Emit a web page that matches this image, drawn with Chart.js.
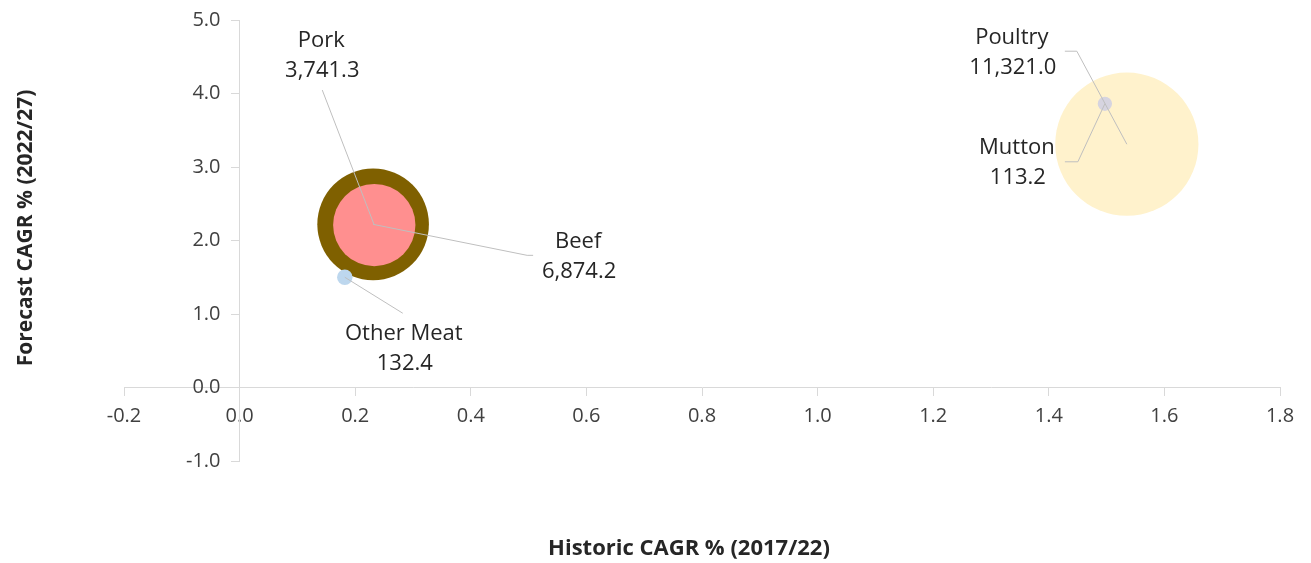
<!DOCTYPE html>
<html>
<head>
<meta charset="utf-8">
<title>Meat market CAGR</title>
<script src="https://cdn.jsdelivr.net/npm/chart.js@4/dist/chart.umd.min.js"></script>
<style>
	html, body { margin: 0; padding: 0; background: #fff; }
	#wrap { width: 1311px; height: 563px; }
</style>
</head>
<body>
<div id="wrap"><canvas id="chart" width="1311" height="563"></canvas></div>
<script>
// market size per category, historic vs forecast growth
const categories = ["Beef", "Pork", "Other Meat", "Poultry", "Mutton"];
const historicCagr = [0.231, 0.233, 0.182, 1.535, 1.497];
const forecastCagr = [2.22, 2.21, 1.50, 3.31, 3.86];
const marketSize = [6874.2, 3741.3, 132.4, 11321.0, 113.2];
const bubbleColors = ["#7f6000", "#ff8f8f", "#bdd7ee", "#fff2cc", "#d6d4e0"];

const xRange = [-0.2, 1.8];
const yRange = [-1.0, 5.0];

const xTitle = "Historic CAGR % (2017/22)";
const yTitle = "Forecast CAGR % (2022/27)";

// pixel radius per sqrt(size) so bubble area follows the market size
const sizeScale = 0.673;

// where each label sits relative to its bubble, and the leader line bends
const labelLayout = {
	"Beef": { text: [205, 17], path: [[154, 31], [160, 31]] },
	"Pork": { text: [-53, -184], path: [[-52, -135]] },
	"Other Meat": { text: [59, 56], path: [[58, 36]] },
	"Poultry": { text: [-115, -106], path: [[-50, -93], [-62, -93]] },
	"Mutton": { text: [-88, 44], path: [[-27, 58], [-40, 58]] },
};

function fmt(v){
	return v.toLocaleString("en-US", { minimumFractionDigits: 1, maximumFractionDigits: 1 });
}

function tickFmt(v){
	if(Math.abs(v) < 1e-9) v = 0;
	return v.toFixed(1);
}

const points = categories.map((c, i) => ({
	x: historicCagr[i],
	y: forecastCagr[i],
	r: sizeScale * Math.sqrt(marketSize[i]),
}));

const bubbleLabels = {
	id: "bubbleLabels",
	afterDatasetsDraw(chart){
		const ctx = chart.ctx;
		const meta = chart.getDatasetMeta(0);

		ctx.save();
		categories.forEach((name, i) => {
			const el = meta.data[i];
			const lay = labelLayout[name];

			ctx.strokeStyle = "#bfbfbf";
			ctx.lineWidth = 1;
			ctx.beginPath();
			ctx.moveTo(el.x, el.y);
			lay.path.forEach(p => ctx.lineTo(el.x + p[0], el.y + p[1]));
			ctx.stroke();

			ctx.fillStyle = "#262626";
			ctx.font = "22px 'Open Sans'";
			ctx.textAlign = "center";
			ctx.textBaseline = "middle";
			const tx = el.x + lay.text[0];
			const ty = el.y + lay.text[1];
			ctx.fillText(name, tx, ty);
			ctx.fillText(fmt(marketSize[i]), tx + 1, ty + 30);
		});
		ctx.restore();
	},
	afterDraw(chart){
		const ctx = chart.ctx;
		ctx.save();
		ctx.fillStyle = "#262626";
		ctx.font = "bold 22px 'Open Sans'";
		ctx.textAlign = "center";
		ctx.textBaseline = "middle";
		ctx.fillText(xTitle, 689, 549);

		ctx.font = "bold 21px 'Open Sans'";
		ctx.translate(26, 228);
		ctx.rotate(-Math.PI / 2);
		ctx.fillText(yTitle, 0, 0);
		ctx.restore();
	}
};

const tickFont = { family: "'Open Sans'", size: 20 };

new Chart(document.getElementById("chart").getContext("2d"), {
	type: "bubble",
	data: {
		datasets: [{
			data: points,
			backgroundColor: bubbleColors,
			borderWidth: 0,
			hoverBorderWidth: 0,
		}],
	},
	options: {
		responsive: false,
		animation: false,
		events: [],
		layout: {
			autoPadding: false,
			padding: { left: 124, right: 31, top: 20, bottom: 102 },
		},
		plugins: {
			legend: { display: false },
			tooltip: { enabled: false },
		},
		scales: {
			x: {
				type: "linear",
				position: { y: 0 },
				min: xRange[0],
				max: xRange[1],
				grid: { drawOnChartArea: false, tickLength: 8, color: "#d9d9d9" },
				border: { color: "#d9d9d9" },
				ticks: {
					stepSize: 0.2,
					padding: 9,
					color: "#404040",
					font: tickFont,
					callback: tickFmt,
				},
			},
			y: {
				type: "linear",
				position: { x: 0 },
				min: yRange[0],
				max: yRange[1],
				grid: { drawOnChartArea: false, tickLength: 8, color: "#d9d9d9" },
				border: { color: "#d9d9d9" },
				ticks: { stepSize: 1, display: false },
			},
			// value labels for the y axis, set a little left of the axis line
			yLabels: {
				type: "linear",
				axis: "y",
				position: { x: -0.033 },
				min: yRange[0],
				max: yRange[1],
				grid: { display: false },
				border: { display: false },
				ticks: {
					stepSize: 1,
					color: "#404040",
					font: tickFont,
					callback: tickFmt,
				},
			},
		},
	},
	plugins: [bubbleLabels],
});
</script>
</body>
</html>
